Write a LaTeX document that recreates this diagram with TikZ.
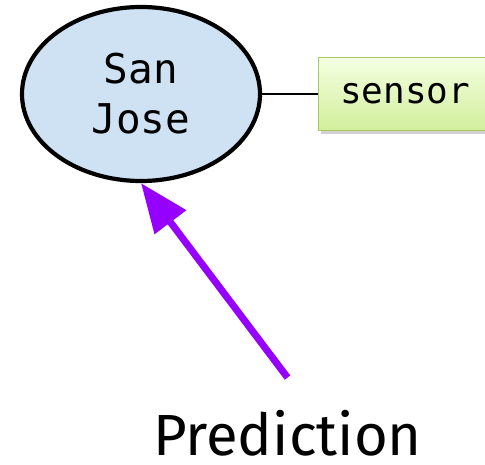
\documentclass[tikz,border=0pt]{standalone}
\usepackage{fontspec}
\setmonofont{DejaVu Sans Mono}
\newfontfamily\predfont{Fira Sans}
\usetikzlibrary{arrows.meta,positioning,shapes.geometric,shadows}

\definecolor{cityblue}{RGB}{207,226,243}
\definecolor{tagtop}{RGB}{244,255,226}
\definecolor{tagbottom}{RGB}{210,238,155}
\definecolor{tagborder}{RGB}{168,200,100}
\definecolor{predpurple}{RGB}{150,0,255}

\begin{document}
\begin{tikzpicture}[x=1pt,y=1pt,node distance=56pt]
  \tikzstyle{city}=[ellipse,draw,line width=4.2pt,fill=cityblue,
    minimum width=238pt,minimum height=174pt,inner sep=0pt,align=center,
    font=\ttfamily\fontsize{41}{50}\selectfont]
  \tikzstyle{tag}=[rectangle,draw=tagborder,line width=1pt,
    top color=tagtop,bottom color=tagbottom,
    drop shadow={shadow xshift=2pt,shadow yshift=-3pt,fill=black!35},
    minimum width=173pt,minimum height=73pt,inner sep=0pt,
    font=\ttfamily\fontsize{36}{36}\selectfont]
  \useasboundingbox (0,0) rectangle (485,-464);
  \node[city] (sanjose) at (141,-94) {San\\Jose};
  \node[tag] (sensor) [right=of sanjose] {sensor};
  \node[anchor=base,inner sep=0pt,font=\predfont\fontsize{58}{58}\selectfont]
    (prediction) at (287.5,-455) {Prediction};
  \coordinate[above=32pt of prediction.north] (predtail);
  \draw[line width=1.5pt] (sanjose) -- (sensor);
  \draw[predpurple,line width=7pt,-{Triangle[length=49pt,width=38pt]}]
    (predtail) -- (sanjose.south);
\end{tikzpicture}
\end{document}
